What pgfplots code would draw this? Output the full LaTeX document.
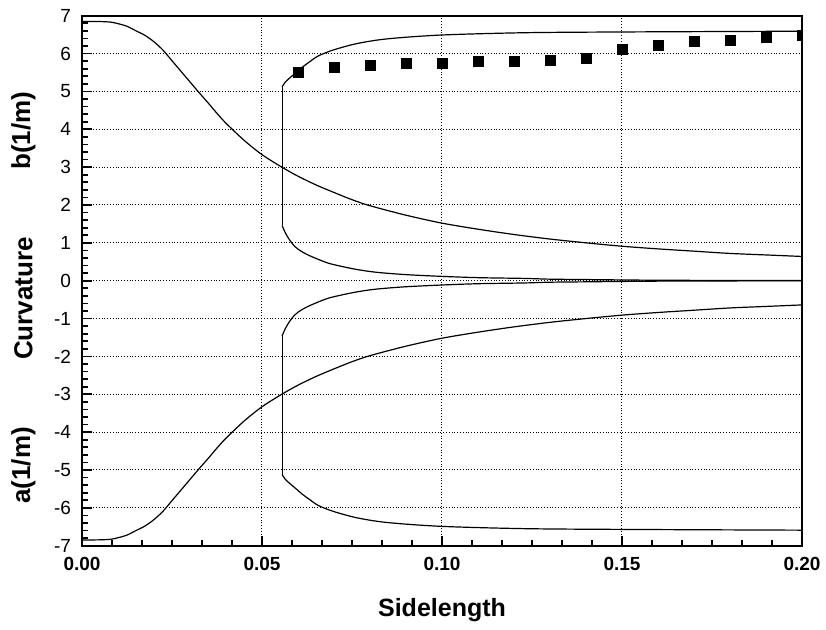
\documentclass[border=0pt]{standalone}
\usepackage{pgfplots}
\pgfplotsset{compat=1.18}
\usepackage{fontspec}
\setmainfont{Liberation Sans}
\begin{document}
\begin{tikzpicture}
\useasboundingbox (-41pt,-42pt) rectangle (372pt,272.85pt);
\begin{axis}[
  at={(0,0)}, anchor=south west,
  scale only axis, width=360pt, height=265pt,
  xmin=0, xmax=0.2, ymin=-7, ymax=7,
  xtick={0,0.05,0.1,0.15,0.2},
  ytick={-7,-6,-5,-4,-3,-2,-1,0,1,2,3,4,5,6,7},
  minor x tick num=5, minor y tick num=4,
  xtick pos=bottom, ytick pos=left,
  tick align=inside,
  major tick length=5pt, minor tick length=3pt,
  tick style={black, line width=0.9pt},
  axis line style={line width=1pt},
  grid=major,
  major grid style={densely dotted, black, line width=0.5pt},
  /pgf/number format/assume math mode=true,
  scaled x ticks=false,
  xticklabel style={font=\fontsize{9.5}{11}\selectfont\bfseries, yshift=-2pt,
    /pgf/number format/.cd, fixed, fixed zerofill, precision=2},
  yticklabel style={font=\fontsize{9.5}{11}\selectfont, xshift=-2pt},
  xlabel={\bfseries Sidelength},
  xlabel style={font=\fontsize{12.5}{14}\selectfont, at={(axis description cs:0.5,0)}, anchor=center, yshift=-32pt},
  clip mode=individual,
  clip marker paths=true,
]
% decreasing upper curve
\addplot[black, line width=0.6pt, no marks, smooth] coordinates {
(0,6.85) (0.005,6.845) (0.008,6.83) (0.010,6.79) (0.0125,6.72) (0.015,6.60)
(0.0175,6.48) (0.020,6.31) (0.0225,6.09) (0.025,5.81) (0.0275,5.53) (0.030,5.25)
(0.0325,4.97) (0.035,4.70) (0.0375,4.42) (0.040,4.16) (0.045,3.71) (0.050,3.33)
(0.0555,3.00) (0.060,2.76) (0.065,2.53) (0.070,2.33) (0.075,2.14) (0.080,1.98)
(0.090,1.73) (0.100,1.52) (0.110,1.36) (0.120,1.22) (0.130,1.10) (0.140,1.00)
(0.150,0.91) (0.160,0.84) (0.170,0.78) (0.180,0.72) (0.190,0.68) (0.200,0.64)
};
% increasing lower curve
\addplot[black, line width=0.6pt, no marks, smooth] coordinates {
(0,-6.85) (0.005,-6.845) (0.008,-6.83) (0.010,-6.79) (0.0125,-6.72) (0.015,-6.60)
(0.0175,-6.48) (0.020,-6.31) (0.0225,-6.09) (0.025,-5.81) (0.0275,-5.53) (0.030,-5.25)
(0.0325,-4.97) (0.035,-4.70) (0.0375,-4.42) (0.040,-4.16) (0.045,-3.71) (0.050,-3.33)
(0.0555,-3.00) (0.060,-2.76) (0.065,-2.53) (0.070,-2.33) (0.075,-2.14) (0.080,-1.98)
(0.090,-1.73) (0.100,-1.52) (0.110,-1.36) (0.120,-1.22) (0.130,-1.10) (0.140,-1.00)
(0.150,-0.91) (0.160,-0.84) (0.170,-0.78) (0.180,-0.72) (0.190,-0.68) (0.200,-0.64)
};
% upper branch b: inner tail, vertical jump, outer part
\addplot[black, line width=0.6pt, no marks, smooth] coordinates {
(0.200,0.003) (0.180,0.006) (0.160,0.012) (0.150,0.02) (0.140,0.03) (0.130,0.04)
(0.1229,0.06) (0.110,0.08) (0.100,0.114) (0.090,0.16) (0.082,0.22) (0.0767,0.29)
(0.0720,0.38) (0.0685,0.46) (0.0657,0.56) (0.0630,0.67) (0.0610,0.77) (0.0591,0.905)
(0.0575,1.10) (0.0563,1.30) (0.0556,1.46)
};
\addplot[black, line width=0.6pt, no marks, sharp plot] coordinates {(0.0556,1.46) (0.0556,5.12)};
\addplot[black, line width=0.6pt, no marks, smooth] coordinates {
(0.0556,5.12) (0.0565,5.25) (0.0580,5.38) (0.0595,5.50) (0.0612,5.64) (0.0632,5.78)
(0.0657,5.94) (0.0700,6.10) (0.0767,6.27) (0.0850,6.39) (0.100,6.49) (0.1229,6.55)
(0.150,6.57) (0.200,6.59)
};
% lower branch a
\addplot[black, line width=0.6pt, no marks, smooth] coordinates {
(0.200,-0.003) (0.180,-0.006) (0.160,-0.012) (0.150,-0.02) (0.140,-0.03) (0.130,-0.04)
(0.1229,-0.06) (0.110,-0.08) (0.100,-0.114) (0.090,-0.16) (0.082,-0.22) (0.0767,-0.29)
(0.0720,-0.38) (0.0685,-0.46) (0.0657,-0.56) (0.0630,-0.67) (0.0610,-0.77) (0.0591,-0.905)
(0.0575,-1.10) (0.0563,-1.30) (0.0556,-1.46)
};
\addplot[black, line width=0.6pt, no marks, sharp plot] coordinates {(0.0556,-1.46) (0.0556,-5.12)};
\addplot[black, line width=0.6pt, no marks, smooth] coordinates {
(0.0556,-5.12) (0.0565,-5.25) (0.0580,-5.38) (0.0595,-5.50) (0.0612,-5.64) (0.0632,-5.78)
(0.0657,-5.94) (0.0700,-6.10) (0.0767,-6.27) (0.0850,-6.39) (0.100,-6.49) (0.1229,-6.55)
(0.150,-6.57) (0.200,-6.59)
};
% measured points
\addplot[only marks, mark=square*, mark size=2.5pt, black] coordinates {
(0.06,5.50) (0.07,5.63) (0.08,5.69) (0.09,5.74) (0.10,5.75) (0.11,5.78) (0.12,5.78)
(0.13,5.83) (0.14,5.88) (0.15,6.11) (0.16,6.21) (0.17,6.31) (0.18,6.34) (0.19,6.42) (0.20,6.49)
};
\node[rotate=90, font=\fontsize{13}{15}\selectfont\bfseries] at ([xshift=-29.25pt]axis cs:0,3.96) {b(1/m)};
\node[rotate=90, font=\fontsize{13}{15}\selectfont\bfseries] at ([xshift=-29.25pt]axis cs:0,-0.47) {Curvature};
\node[rotate=90, font=\fontsize{13}{15}\selectfont\bfseries] at ([xshift=-29.25pt]axis cs:0,-4.88) {a(1/m)};
\end{axis}
\end{tikzpicture}
\end{document}
